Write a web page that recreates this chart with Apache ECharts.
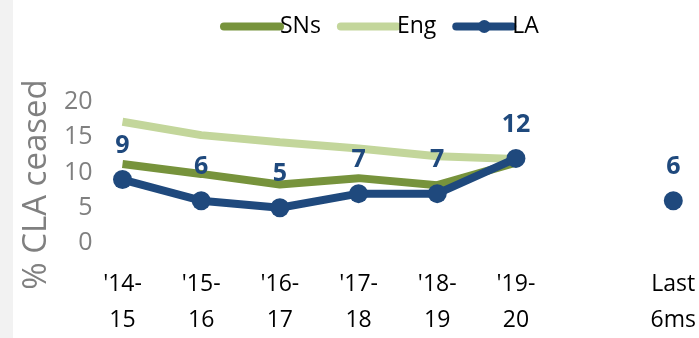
<!DOCTYPE html>
<html>
<head>
<meta charset="utf-8">
<script src="https://cdn.jsdelivr.net/npm/echarts@6/dist/echarts.min.js"></script>
<style>
  html, body { margin: 0; padding: 0; background: #ffffff; }
  #chart { width: 699px; height: 338px; }
</style>
</head>
<body>
<div id="chart"></div>
<script>
// Periods on the x axis; the blank slot separates the yearly run from the recent figure
const categories = ["'14-\n15", "'15-\n16", "'16-\n17", "'17-\n18", "'18-\n19", "'19-\n20", "", "Last\n6ms"];
const snsValues = [11.2, 9.8, 8.3, 9.2, 8.2, 11.4, null, null];
const engValues = [17.2, 15.3, 14.3, 13.4, 12.3, 11.9, null, null];
const laValues  = [9, 6, 5, 7, 7, 12, null, 6];
const yTicks = [0, 5, 10, 15, 20];

const FONT = '"Open Sans", "Noto Sans", sans-serif';
const GREY = '#808080';
const LA_BLUE = '#1F497D';

const chart = echarts.init(document.getElementById('chart'), null, { renderer: 'canvas' });

chart.setOption({
  animation: false,
  backgroundColor: '#ffffff',
  graphic: [{
    type: 'rect',
    left: 0, top: 0,
    shape: { width: 13, height: 338 },
    style: { fill: '#f2f2f2' },
    silent: true
  }],
  legend: {
    left: 215,
    top: 10,
    itemWidth: 56,
    itemHeight: 16,
    itemGap: 16,
    lineStyle: { width: 8, cap: 'round' },
    data: [
      { name: 'SNs', itemStyle: { opacity: 0 } },
      { name: 'Eng', itemStyle: { opacity: 0 } },
      { name: 'LA' }
    ],
    textStyle: { fontFamily: FONT, fontSize: 23, color: '#000000', padding: [0, 0, 0, -5] }
  },
  grid: { left: 122.5, right: 25, top: 102, bottom: 92, containLabel: false },
  xAxis: {
    type: 'category',
    data: categories,
    boundaryGap: false,
    axisLine: { show: false },
    axisTick: { show: false },
    splitLine: { show: false },
    axisLabel: {
      interval: 0,
      margin: 23,
      fontFamily: FONT,
      fontSize: 23,
      lineHeight: 36,
      color: '#000000',
      align: 'center'
    }
  },
  yAxis: {
    type: 'value',
    min: yTicks[0],
    max: yTicks[yTicks.length - 1],
    interval: 5,
    name: '% CLA ceased',
    nameLocation: 'middle',
    nameGap: 66,
    nameRotate: 90,
    nameTextStyle: { fontFamily: FONT, fontSize: 33, color: GREY, padding: [0, 24, 0, 0] },
    axisLine: { show: false },
    axisTick: { show: false },
    splitLine: { show: false },
    axisLabel: { margin: 30, fontFamily: FONT, fontSize: 25, color: GREY }
  },
  series: [
    {
      name: 'SNs',
      type: 'line',
      data: snsValues,
      z: 3,
      symbol: 'none',
      showSymbol: false,
      color: '#77933C',
      lineStyle: { width: 8, color: '#77933C' }
    },
    {
      name: 'Eng',
      type: 'line',
      data: engValues,
      z: 2,
      symbol: 'none',
      showSymbol: false,
      color: '#C3D69B',
      lineStyle: { width: 8, color: '#C3D69B' }
    },
    {
      name: 'LA',
      type: 'line',
      data: laValues,
      z: 4,
      symbol: 'circle',
      symbolSize: 19,
      showSymbol: true,
      connectNulls: false,
      color: LA_BLUE,
      itemStyle: { color: LA_BLUE },
      lineStyle: { width: 8, color: LA_BLUE },
      label: {
        show: true,
        position: 'top',
        distance: 12,
        fontFamily: FONT,
        fontSize: 25,
        fontWeight: 'bold',
        color: LA_BLUE
      }
    }
  ]
});
</script>
</body>
</html>
